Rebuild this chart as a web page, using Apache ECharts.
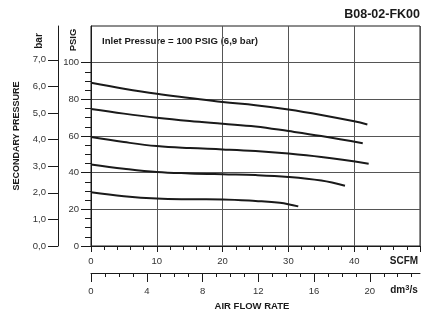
<!DOCTYPE html>
<html>
<head>
<meta charset="utf-8">
<title>B08-02-FK00</title>
<script src="https://cdn.jsdelivr.net/npm/echarts@6/dist/echarts.min.js"></script>
<style>
  html, body { margin: 0; padding: 0; background: #fff; }
  #chart { width: 422px; height: 311px; }
</style>
</head>
<body>
<div id="chart"></div>
<script>
// curves: [flow in SCFM, secondary pressure in PSIG]
const curve1 = [[0, 89], [5, 85.8], [10, 83], [15, 80.7], [20, 78.5], [25, 76.8], [30, 74.5], [35, 71.5], [40, 68], [42, 66.3]]
const curve2 = [[0, 74.7], [5, 72.2], [10, 70], [15, 68.2], [20, 66.7], [25, 65.2], [30, 62.7], [35, 60], [41.3, 56.1]]
const curve3 = [[0, 59.4], [5, 56.7], [10, 54.5], [15, 53.4], [20, 52.7], [25, 51.8], [30, 50.4], [35, 48.5], [42.2, 44.9]]
const curve4 = [[0, 44.5], [5, 42.2], [10, 40.4], [15, 39.6], [20, 39.1], [25, 38.7], [30, 37.7], [35, 35.7], [38.6, 32.9]]
const curve5 = [[0, 29.3], [5, 27.2], [10, 25.9], [15, 25.5], [20, 25.4], [25, 24.6], [28.7, 23.6], [31.5, 21.6]]
const curves = [curve1, curve2, curve3, curve4, curve5]

// tick labels
const psigTicks = [0, 20, 40, 60, 80, 100]
const psigMinorTicks = [5, 10, 15, 25, 30, 35, 45, 50, 55, 65, 70, 75, 85, 90, 95]
const barTicks = [0, 1, 2, 3, 4, 5, 6, 7]
const dmTicks = [0, 4, 8, 12, 16, 20]
const dmMinorTicks = [1, 2, 3, 5, 6, 7, 9, 10, 11, 13, 14, 15, 17, 18, 19, 21, 22, 23]

const PSI_PER_BAR = 14.5038
const DM3_PER_SCFM = 0.47195
const FONT = '"Liberation Sans", Arial, sans-serif'
const INK = '#1a1a1a'
const LABEL = { fontSize: 9.5, color: '#333', fontFamily: FONT }

let myChart = echarts.init(document.getElementById('chart'))

// every axis sits on its own line, never on the other axis' zero
let plainAxis = function(extra) {
  return Object.assign({
    type: 'value',
    axisLine: { show: true, onZero: false, lineStyle: { color: INK, width: 1 } },
    axisTick: { show: true, inside: false, lineStyle: { color: INK } },
    axisLabel: { show: false },
    splitLine: { show: false }
  }, extra)
}

myChart.setOption({
  animation: false,
  grid: {
    left: 91, top: 26, right: 2, bottom: 65,
    show: true, borderColor: INK, borderWidth: 1,
    outerBoundsMode: 'none'
  },
  xAxis: [
    plainAxis({
      min: 0, max: 50, interval: 10, position: 'bottom',
      axisTick: { show: true, length: 6, lineStyle: { color: INK } },
      minorTick: { show: true, splitNumber: 5, length: 4, lineStyle: { color: INK } },
      axisLabel: Object.assign({ show: true, margin: 10, showMaxLabel: false }, LABEL),
      splitLine: { show: true, lineStyle: { color: '#555' } }
    }),
    plainAxis({
      min: 0, max: 50 * DM3_PER_SCFM, position: 'bottom', offset: 27,
      axisTick: { show: true, length: 9, customValues: dmTicks, lineStyle: { color: INK } },
      axisLabel: Object.assign({ show: true, margin: 13, customValues: dmTicks }, LABEL)
    }),
    plainAxis({
      min: 0, max: 50 * DM3_PER_SCFM, position: 'bottom', offset: 27,
      axisLine: { show: false, onZero: false },
      axisTick: { show: true, length: 4, customValues: dmMinorTicks, lineStyle: { color: INK } }
    })
  ],
  yAxis: [
    plainAxis({
      min: 0, max: 120, interval: 20, position: 'left',
      axisTick: { show: true, length: 10, customValues: psigTicks, lineStyle: { color: INK } },
      axisLabel: Object.assign({ show: true, margin: 12, customValues: psigTicks }, LABEL),
      splitLine: { show: true, lineStyle: { color: '#555' } }
    }),
    plainAxis({
      min: 0, max: 120, position: 'left',
      axisLine: { show: false, onZero: false },
      axisTick: { show: true, length: 6, customValues: psigMinorTicks, lineStyle: { color: INK } }
    }),
    plainAxis({
      min: 0, max: 120 / PSI_PER_BAR, position: 'left', offset: 33,
      axisTick: { show: true, length: 10, customValues: barTicks, lineStyle: { color: INK } },
      axisLabel: Object.assign({
        show: true, margin: 12, customValues: barTicks,
        formatter: v => v.toFixed(1).replace('.', ',')
      }, LABEL)
    })
  ],
  series: curves.map(c => ({
    type: 'line',
    data: c,
    xAxisIndex: 0,
    yAxisIndex: 0,
    smooth: 0.4,
    symbol: 'none',
    lineStyle: { color: INK, width: 2 }
  })),
  graphic: [
    { type: 'text', x: 420, y: 15, style: { text: 'B08-02-FK00', font: 'bold 12.5px ' + FONT, fill: INK, align: 'right', verticalAlign: 'middle' } },
    { type: 'text', x: 102, y: 41, style: { text: 'Inlet Pressure = 100 PSIG (6,9 bar)', font: 'bold 9.6px ' + FONT, fill: INK, verticalAlign: 'middle' } },
    { type: 'text', x: 73, y: 40, rotation: Math.PI / 2, style: { text: 'PSIG', font: 'bold 9.5px ' + FONT, fill: INK, align: 'center', verticalAlign: 'middle' } },
    { type: 'text', x: 39, y: 41, rotation: Math.PI / 2, style: { text: 'bar', font: 'bold 10px ' + FONT, fill: INK, align: 'center', verticalAlign: 'middle' } },
    { type: 'text', x: 17, y: 136, rotation: Math.PI / 2, style: { text: 'SECONDARY PRESSURE', font: 'bold 9px ' + FONT, fill: INK, align: 'center', verticalAlign: 'middle' } },
    { type: 'text', x: 404, y: 261, style: { text: 'SCFM', font: 'bold 10px ' + FONT, fill: INK, align: 'center', verticalAlign: 'middle' } },
    {
      type: 'text', x: 404, y: 290,
      style: {
        text: 'dm{sup|3}/s', font: 'bold 10px ' + FONT, fill: INK, align: 'center', verticalAlign: 'middle',
        rich: { sup: { font: 'bold 7.5px ' + FONT, fill: INK, verticalAlign: 'top', padding: [0, 0, 5, 0] } }
      }
    },
    { type: 'text', x: 252, y: 306, style: { text: 'AIR FLOW RATE', font: 'bold 9.5px ' + FONT, fill: INK, align: 'center', verticalAlign: 'middle' } }
  ]
})
</script>
</body>
</html>
